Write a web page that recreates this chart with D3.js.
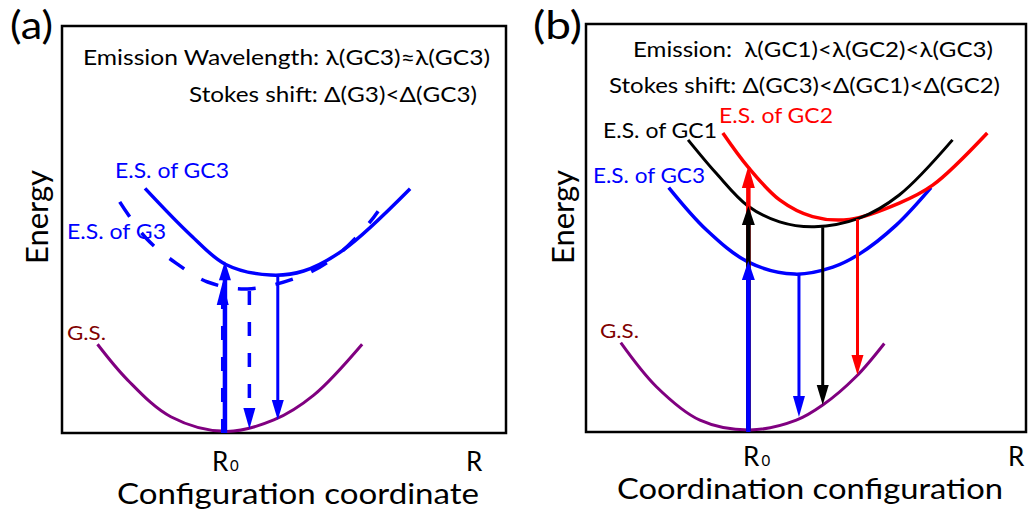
<!DOCTYPE html>
<html>
<head>
<meta charset="utf-8">
<script src="https://cdn.jsdelivr.net/npm/d3@7"></script>
<style>
  body { margin: 0; background: #fff; }
  text { font-family: Lato, "Open Sans", sans-serif; white-space: pre; }
</style>
</head>
<body>
<svg id="chart"></svg>
<script>
var svgWidth = 1028;
var svgHeight = 514;

// both panels use a 0-100 frame: [configuration coordinate, energy]
// panel (a)
var aGround = [[8.0, 21.8], [14.8, 13.0], [24.5, 4.0], [36.9, 0.4], [47.7, 3.2], [56.7, 9.3], [67.6, 21.8]];
var aExcitedGC3 = [[18.7, 60.1], [29.0, 48.6], [36.9, 41.4], [47.0, 38.8], [54.4, 39.8], [63.4, 45.0], [78.4, 60.0]];
var aExcitedG3 = [[13.0, 56.8], [18.9, 47.9], [25.6, 41.8], [32.8, 37.1], [41.8, 35.4], [54.4, 38.8], [62.0, 43.7], [68.8, 51.1], [71.2, 54.5]];
var aArrowX = [36.2, 36.7, 42.2, 48.6];
var aArrowFrom = [0, 0, 34.9, 38.8];
var aArrowTo = [37.1, 42.2, 1.0, 3.2];

// panel (b)
var bGround = [[7.9, 21.9], [16.0, 11.1], [25.9, 2.9], [37.2, 0.5], [47.8, 2.9], [53.8, 6.6], [61.4, 13.6], [67.8, 21.7]];
var bExcitedGC3 = [[18.8, 59.9], [27.4, 49.5], [36.8, 41.7], [47.4, 38.7], [56.1, 40.4], [62.1, 43.6], [70.5, 50.7], [78.4, 59.9]];
var bExcitedGC1 = [[23.2, 71.6], [29.6, 63.4], [36.8, 55.4], [44.0, 51.5], [51.9, 50.3], [62.1, 52.4], [71.2, 58.1], [83.3, 71.6]];
var bExcitedGC2 = [[31.1, 73.3], [36.8, 65.0], [44.0, 56.9], [51.5, 52.8], [59.9, 52.1], [71.2, 56.1], [78.8, 60.5], [91.2, 73.3]];
var bArrowX = [36.9, 36.9, 36.9, 48.4, 53.8, 61.7];
var bArrowFrom = [0, 0, 0, 38.7, 50.2, 52.2];
var bArrowTo = [65.2, 55.4, 41.9, 3.7, 6.6, 14.0];

var svg = d3.select("#chart")
  .attr("width", svgWidth)
  .attr("height", svgHeight);

function addText(g, str, x, y, size, len, color) {
  var t = g.append("text")
    .attr("x", x)
    .attr("y", y)
    .attr("font-size", size)
    .attr("fill", color || "black")
    .text(str);
  if (len) t.attr("textLength", len).attr("lengthAdjust", "spacingAndGlyphs");
  return t;
}

function drawPanel(box, curves, arrows, arrowStyles) {
  var xScale = d3.scaleLinear().domain([0, 100]).range([box.left, box.right]);
  var yScale = d3.scaleLinear().domain([0, 100]).range([box.bottom, box.top]);

  var line = d3.line()
    .x(d => xScale(d[0]))
    .y(d => yScale(d[1]))
    .curve(d3.curveCatmullRom.alpha(0.5));

  svg.append("rect")
    .attr("x", box.left)
    .attr("y", box.top)
    .attr("width", box.right - box.left)
    .attr("height", box.bottom - box.top)
    .attr("fill", "none")
    .attr("stroke", "black")
    .attr("stroke-width", 2.5);

  curves.forEach(function (c) {
    svg.append("path")
      .attr("d", line(c.data))
      .attr("fill", "none")
      .attr("stroke", c.color)
      .attr("stroke-width", c.width)
      .attr("stroke-dasharray", c.dash || null);
  });

  arrows.x.forEach(function (u, i) {
    var s = arrowStyles[i];
    var px = xScale(u);
    var y0 = yScale(arrows.from[i]);
    var y1 = yScale(arrows.to[i]);
    var dir = y1 < y0 ? -1 : 1;
    svg.append("line")
      .attr("x1", px).attr("x2", px)
      .attr("y1", y0)
      .attr("y2", y1 - dir * s.head * 0.8)
      .attr("stroke", s.color)
      .attr("stroke-width", s.width)
      .attr("stroke-dasharray", s.dash || null);
    svg.append("path")
      .attr("d", `M${px},${y1}L${px - s.half},${y1 - dir * s.head}L${px + s.half},${y1 - dir * s.head}Z`)
      .attr("fill", s.color);
  });
}

var blue = "#0000ff", red = "#ff0000", purple = "#800080", maroon = "#800000";

// panel (a)
drawPanel({ left: 62, top: 26, right: 506, bottom: 433 },
  [
    { data: aGround, color: purple, width: 3 },
    { data: aExcitedG3, color: blue, width: 3.5, dash: "18,20" },
    { data: aExcitedGC3, color: blue, width: 3.5 }
  ],
  { x: aArrowX, from: aArrowFrom, to: aArrowTo },
  [
    { color: blue, width: 3.5, dash: "14,17", head: 23, half: 6 },
    { color: blue, width: 4.5, head: 19, half: 6 },
    { color: blue, width: 3.5, dash: "14,17", head: 21, half: 6 },
    { color: blue, width: 3, head: 20, half: 6 }
  ]);

// panel (b)
drawPanel({ left: 586, top: 24, right: 1026, bottom: 432 },
  [
    { data: bGround, color: purple, width: 3 },
    { data: bExcitedGC3, color: blue, width: 3.5 },
    { data: bExcitedGC2, color: red, width: 3.5 },
    { data: bExcitedGC1, color: "black", width: 3 }
  ],
  { x: bArrowX, from: bArrowFrom, to: bArrowTo },
  [
    { color: red, width: 4.5, head: 22, half: 6.5 },
    { color: "black", width: 4.5, head: 19, half: 6.5 },
    { color: blue, width: 4.5, head: 19, half: 6.5 },
    { color: blue, width: 3, head: 21, half: 6 },
    { color: "black", width: 3, head: 20, half: 6 },
    { color: red, width: 3, head: 20, half: 6 }
  ]);

var labels = svg.append("g");

// panel (a) texts
addText(labels, "(a)", 10, 39, 38, 43);
addText(labels, "Emission Wavelength: λ(GC3)≈λ(GC3)", 83, 65, 22, 407);
addText(labels, "Stokes shift: Δ(G3)<Δ(GC3)", 189, 102, 22, 288);
addText(labels, "E.S. of GC3", 115, 178, 21, 114, blue);
addText(labels, "E.S. of G3", 67, 239, 21, 99, blue);
addText(labels, "G.S.", 67, 340, 19, 39, maroon);
addText(labels, "Energy", 0, 0, 30, 94).attr("transform", "translate(48,264) rotate(-90)");
addText(labels, "R", 212, 471, 26);
addText(labels, "0", 230, 471, 15);
addText(labels, "R", 466, 471, 26);
addText(labels, "Configuration coordinate", 117, 504, 29, 362);

// panel (b) texts
addText(labels, "(b)", 533, 39, 38, 49);
addText(labels, "Emission:  λ(GC1)<λ(GC2)<λ(GC3)", 633, 57, 22, 360);
addText(labels, "Stokes shift: Δ(GC3)<Δ(GC1)<Δ(GC2)", 609, 93, 22, 391);
addText(labels, "E.S. of GC2", 719, 123, 21, 114, red);
addText(labels, "E.S. of GC1", 603, 138, 21, 114, "black");
addText(labels, "E.S. of GC3", 593, 183, 21, 112, blue);
addText(labels, "G.S.", 600, 338, 19, 39, maroon);
addText(labels, "Energy", 0, 0, 30, 94).attr("transform", "translate(574,264) rotate(-90)");
addText(labels, "R", 743, 466, 26);
addText(labels, "0", 761.5, 466, 15);
addText(labels, "R", 1008, 466, 26);
addText(labels, "Coordination configuration", 617, 499, 28, 386);
</script>
</body>
</html>
